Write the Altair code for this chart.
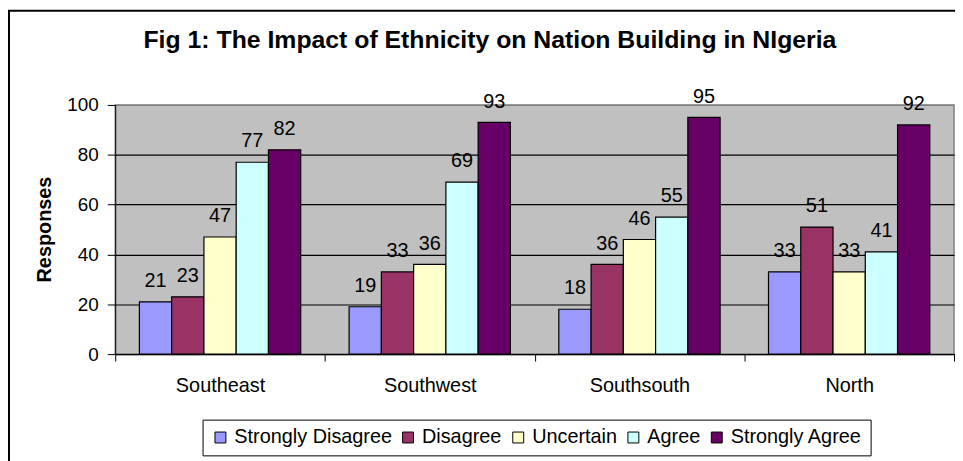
import altair as alt
import pandas as pd

regions = ["Southeast", "Southwest", "Southsouth", "North"]
responses = ["Strongly Disagree", "Disagree", "Uncertain", "Agree", "Strongly Agree"]
colors = ["#9999FF", "#993366", "#FFFFCC", "#CCFFFF", "#660066"]
strongly_disagree = [21, 19, 18, 33]
disagree = [23, 33, 36, 51]
uncertain = [47, 36, 46, 33]
agree = [77, 69, 55, 41]
strongly_agree = [82, 93, 95, 92]
y_ticks = [0, 20, 40, 60, 80, 100]
title_text = "Fig 1: The Impact of Ethnicity on Nation Building in NIgeria"
y_title = "Responses"

series = [strongly_disagree, disagree, uncertain, agree, strongly_agree]
rows = []
for resp, vals in zip(responses, series):
    for reg, v in zip(regions, vals):
        rows.append({"region": reg, "response": resp, "value": v})
df = pd.DataFrame(rows)

FONT = "Liberation Sans"

x_enc = alt.X("region:N", sort=regions,
              scale=alt.Scale(paddingInner=0, paddingOuter=0),
              axis=alt.Axis(title=None, labelAngle=0, labelFontSize=20, labelColor="black",
                            labelFont=FONT, tickBand="extent", tickSize=7, tickColor="black",
                            domainColor="black", labelPadding=15, grid=False))
xoff_enc = alt.XOffset("response:N", sort=responses,
                       scale=alt.Scale(paddingInner=0, paddingOuter=0.75))
y_enc = alt.Y("value:Q", scale=alt.Scale(domain=[0, 100], nice=False),
              axis=alt.Axis(title=y_title, values=y_ticks, labelFontSize=19, labelFont=FONT,
                            labelColor="black", titleFont=FONT, titleFontSize=20,
                            titleFontWeight="bold", titleColor="black", titleAngle=-90,
                            titleX=-71, titleY=125, titleAlign="center", titleBaseline="middle",
                            tickSize=8, tickColor="black", domainColor="black", labelPadding=9,
                            grid=True,
                            gridColor={"condition": {"test": "datum.value === 100", "value": "#808080"},
                                       "value": "black"},
                            gridOpacity=1, gridWidth=1.2))

bars = alt.Chart(df).mark_bar(stroke="black", strokeWidth=1.2).encode(
    x=x_enc,
    xOffset=xoff_enc,
    y=y_enc,
    color=alt.Color("response:N", sort=responses,
                    scale=alt.Scale(domain=responses, range=colors),
                    legend=alt.Legend(title=None, orient="none", direction="horizontal",
                                      legendX=88, legendY=317, columns=5,
                                      fillColor="white", strokeColor="black",
                                      padding=8, symbolType="square", symbolSize=121,
                                      symbolStrokeColor="black", symbolStrokeWidth=1,
                                      symbolOpacity=1,
                                      labelFontSize=20, labelFont=FONT, labelColor="black",
                                      labelOffset=4, columnPadding=6, labelLimit=400)),
)

labels = alt.Chart(df).mark_text(baseline="alphabetic", dy=-15, fontSize=20, font=FONT,
                                 color="black").encode(
    x=alt.X("region:N", sort=regions),
    xOffset=alt.XOffset("response:N", sort=responses),
    y=alt.Y("value:Q"),
    text=alt.Text("value:Q"),
)

frame_data = alt.Data(values=[{"title": title_text}])
title_mark = alt.Chart(frame_data).mark_text(
    fontSize=25, fontWeight="bold", font=FONT, color="black",
    align="center", baseline="alphabetic").encode(
    x=alt.value(377.5), y=alt.value(-57), text="title:N")
outer_frame = alt.Chart(frame_data).mark_rect(
    fillOpacity=0, stroke="black", strokeWidth=2).encode(
    x=alt.value(-107), x2=alt.value(960), y=alt.value(-95), y2=alt.value(450))

chart = alt.layer(outer_frame, bars, labels, title_mark).properties(
    width=845, height=251,
    padding={"left": 108, "top": 96, "right": 1, "bottom": 106},
    autosize=alt.AutoSizeParams(type="none"),
    background="white",
).configure_view(
    fill="#C0C0C0", stroke="#808080", strokeWidth=1.5
).configure_scale(
    bandPaddingInner=0
)

chart.save("out.html", embed_options={"renderer": "svg", "actions": False})
